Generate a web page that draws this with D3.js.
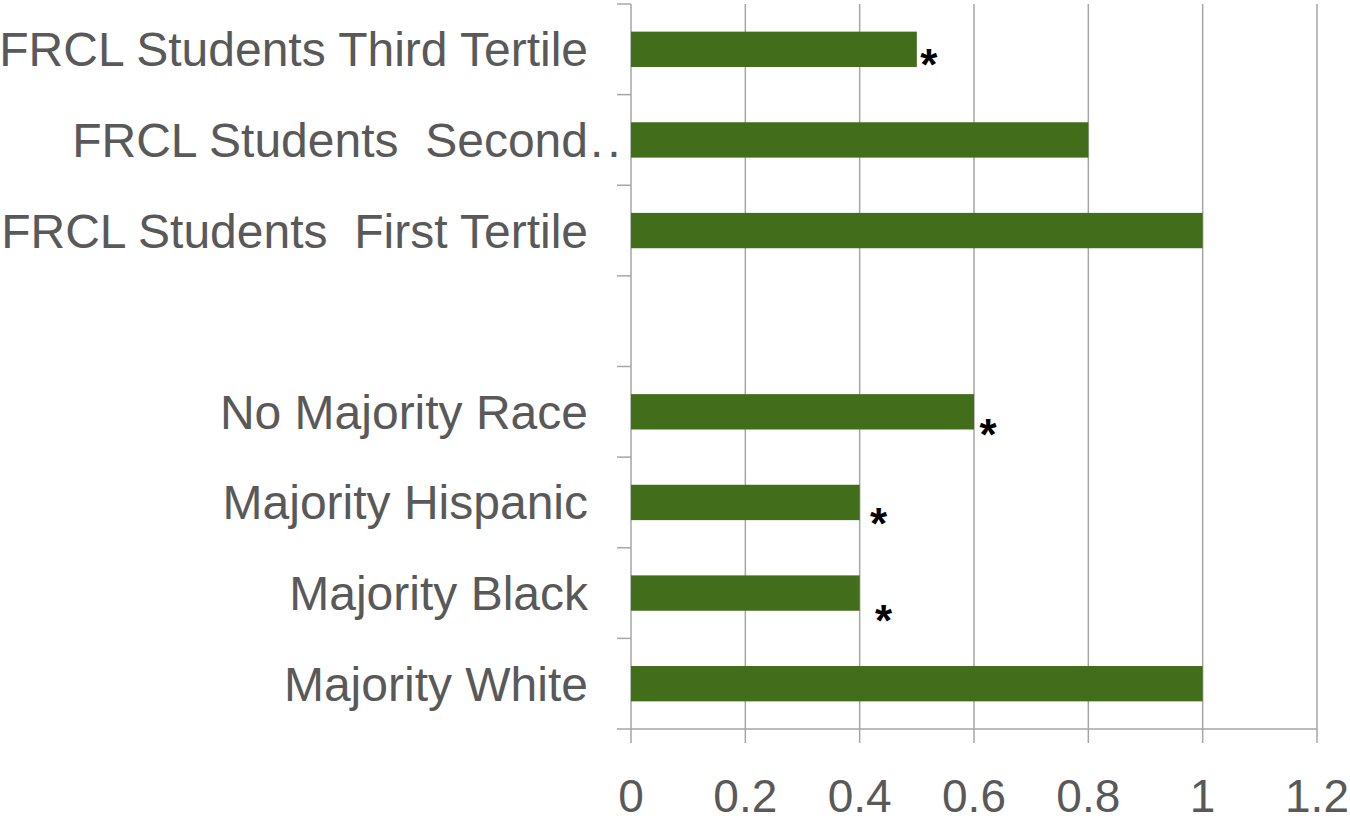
<!DOCTYPE html>
<html>
<head>
<meta charset="utf-8">
<script src="https://cdn.jsdelivr.net/npm/d3@7"></script>
<style>
  html, body { margin: 0; padding: 0; background: #fff; }
  svg { display: block; }
  text { font-family: "Liberation Sans", Arial, sans-serif; }
</style>
</head>
<body>
<svg id="chart" width="1350" height="822"></svg>
<script>
// ---- data ----
const categories = [
  "FRCL Students Third Tertile",
  "FRCL Students  Second Tertile",
  "FRCL Students  First Tertile",
  "",
  "No Majority Race",
  "Majority Hispanic",
  "Majority Black",
  "Majority White"
];
const values = [0.5, 0.8, 1.0, null, 0.6, 0.4, 0.4, 1.0];
const significant = [true, false, false, false, true, true, true, false];
const xTicks = [0, 0.2, 0.4, 0.6, 0.8, 1, 1.2];
const xTickLabels = ["0", "0.2", "0.4", "0.6", "0.8", "1", "1.2"];

(function () {
// ---- layout ----
const svg = d3.select("#chart");
const mLeft = 631, mRight = 1317, mTop = 4, mBottom = 729;
const gridColor = "#a6a6a6";
const textColor = "#595959";
const barColor = "#426d1a";

const x = d3.scaleLinear().domain([0, 1.2]).range([mLeft, mRight]);
const y = d3.scaleBand().domain(d3.range(categories.length)).range([mTop, mBottom])
  .paddingInner(0.61).paddingOuter(0.305);
const yEdge = d3.scaleLinear().domain([0, categories.length]).range([mTop, mBottom]);

// gridlines
svg.append("g").selectAll("line").data(xTicks).join("line")
  .attr("x1", d => x(d)).attr("x2", d => x(d))
  .attr("y1", mTop).attr("y2", mBottom + 14)
  .attr("stroke", gridColor).attr("stroke-width", 1.5);

// y axis ticks (category boundaries)
svg.append("g").selectAll("line").data(d3.range(categories.length + 1)).join("line")
  .attr("x1", mLeft - 14).attr("x2", mLeft)
  .attr("y1", d => yEdge(d)).attr("y2", d => yEdge(d))
  .attr("stroke", gridColor).attr("stroke-width", 1.5);

// x axis line
svg.append("line").attr("x1", mLeft).attr("x2", mRight)
  .attr("y1", mBottom).attr("y2", mBottom)
  .attr("stroke", gridColor).attr("stroke-width", 1.5);

// bars
svg.append("g").selectAll("rect").data(values.map((v, i) => ({v, i})).filter(d => d.v != null))
  .join("rect")
  .attr("x", x(0))
  .attr("y", d => y(d.i))
  .attr("width", d => x(d.v) - x(0))
  .attr("height", y.bandwidth())
  .attr("fill", barColor);

// category labels
const labelX = 588;
categories.forEach((c, i) => {
  if (!c) return;
  const cy = y(i) + y.bandwidth() / 2;
  let shown = c, trunc = false;
  if (c.endsWith("Second Tertile")) { shown = "FRCL Students  Second"; trunc = true; }
  svg.append("text")
    .attr("x", labelX).attr("y", cy + 17)
    .attr("text-anchor", "end")
    .attr("font-size", 48)
    .attr("fill", textColor)
    .style("white-space", "pre")
    .text(shown);
  if (trunc) {
    svg.append("text")
      .attr("x", labelX + 2).attr("y", cy + 17)
      .attr("font-size", 48)
      .attr("fill", textColor)
      .attr("letter-spacing", 4)
      .text("..");
  }
});

// x tick labels
svg.append("g").selectAll("text").data(xTicks).join("text")
  .attr("x", d => x(d)).attr("y", 812)
  .attr("text-anchor", "middle")
  .attr("font-size", 46)
  .attr("fill", textColor)
  .text((d, i) => xTickLabels[i]);

// significance asterisks (offsets from bar end / bar centre, px)
const starOffsets = [[12, 7], null, null, null, [14, 14], [19, 13], [24, 19], null];
values.forEach((v, i) => {
  if (!significant[i]) return;
  const [dx, dy] = starOffsets[i];
  const cy = y(i) + y.bandwidth() / 2;
  svg.append("text")
    .attr("x", x(v) + dx).attr("y", cy + dy + 24)
    .attr("text-anchor", "middle")
    .attr("font-size", 44)
    .attr("font-weight", "bold")
    .attr("fill", "#000")
    .text("*");
});
})();
</script>
</body>
</html>
